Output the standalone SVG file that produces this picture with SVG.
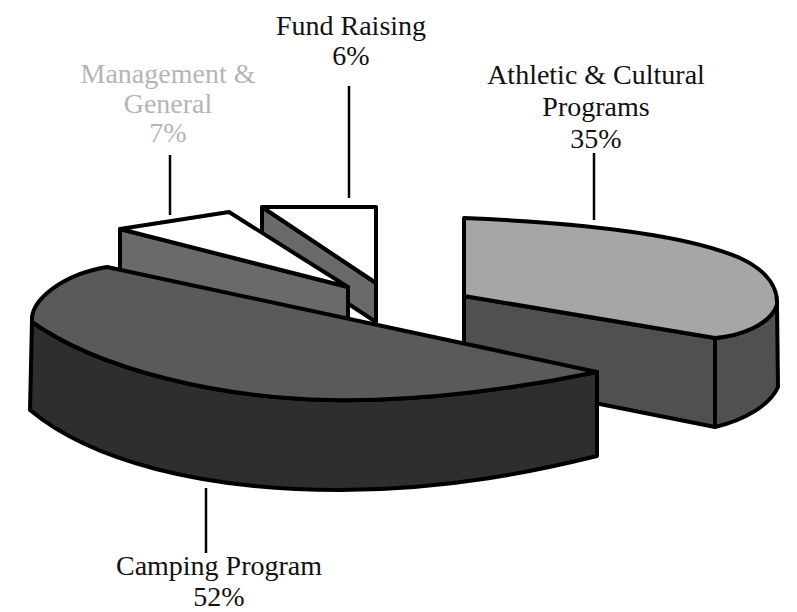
<svg xmlns="http://www.w3.org/2000/svg" width="797" height="612" viewBox="0 0 797 612">
<style>
.o{stroke:#000;stroke-width:4;stroke-linejoin:round}
.lbl{font-family:"Liberation Serif","Times New Roman",serif;font-size:28px;fill:#111;text-anchor:middle}
.faded{fill:#b5b5b5}
.con line{stroke:#000;stroke-width:2.5}
</style>
<rect width="797" height="612" fill="#fff"/>
<g id="fund-raising">
<polygon class="o" points="262,207 376,283 376,322 262,247" fill="#6a6a6a"/>
<polygon class="o" points="262,207 376,207 376,283" fill="#fff"/>
</g>
<g id="management-general">
<polygon class="o" points="120,229 348,287 348,320 120,272" fill="#6a6a6a"/>
<polygon class="o" points="120,229 229,212 348,287" fill="#fff"/>
</g>
<g id="athletic-cultural">
<path class="o" d="M464,296 L715,338 L715,427 L464,377 Z" fill="#505050"/>
<path class="o" d="M715,338 C740,336 770,325 777,305 L778,387 C770,405 745,420 715,427 Z" fill="#505050"/>
<path class="o" d="M464,218 C560,222 680,232 740,258 C770,272 778,290 777,305 C770,325 740,336 715,338 L464,296 Z" fill="#a6a6a6"/>
</g>
<g id="camping-program">
<path class="o" d="M32,320 L30,410 C90,460 200,490 340,490 C450,490 540,470 597,456 L597,372 C520,388 420,402 330,400 C220,398 100,370 32,322 Z" fill="#2e2e2e"/>
<path class="o" d="M107,267 L597,372 C520,388 420,402 330,400 C220,398 100,370 32,322 L32,317 C34,300 60,275 107,267 Z" fill="#5a5a5a"/>
</g>
<g id="connectors" class="con">
<line x1="170" y1="155" x2="170" y2="215"/>
<line x1="349" y1="86" x2="349" y2="198"/>
<line x1="594" y1="153" x2="594" y2="220"/>
<line x1="206" y1="488" x2="206" y2="553"/>
</g>
<g id="labels">
<text class="lbl" x="351" y="35">Fund Raising</text>
<text class="lbl" x="351" y="65">6%</text>
<text class="lbl faded" x="168" y="83">Management &amp;</text>
<text class="lbl faded" x="168" y="113">General</text>
<text class="lbl faded" x="168" y="142">7%</text>
<text class="lbl" x="596" y="84">Athletic &amp; Cultural</text>
<text class="lbl" x="596" y="116">Programs</text>
<text class="lbl" x="596" y="148">35%</text>
<text class="lbl" x="219" y="575">Camping Program</text>
<text class="lbl" x="219" y="606">52%</text>
</g>
</svg>
